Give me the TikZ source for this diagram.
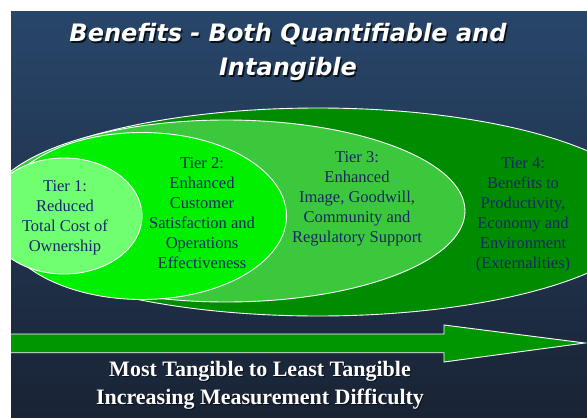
\documentclass[tikz,border=0pt]{standalone}
\usepackage{fontspec}
\setmainfont{Liberation Serif}
\newfontfamily\titlefont{DejaVu Sans}
\usetikzlibrary{shapes.geometric}

\definecolor{bgtop}{RGB}{40,70,106}
\definecolor{bgbottom}{RGB}{25,35,52}
\definecolor{tierfour}{RGB}{0,140,0}
\definecolor{tierthree}{RGB}{60,200,60}
\definecolor{tiertwo}{RGB}{0,240,0}
\definecolor{tierone}{RGB}{112,255,112}
\definecolor{arrowgreen}{RGB}{0,150,0}
\definecolor{tiertext}{RGB}{25,40,100}

\begin{document}
\begin{tikzpicture}
    [ x=1pt, y=-1pt,
    ring/.style={ellipse, draw=white, line width=0.9pt, inner sep=0pt},
    tier/.style={text=tiertext, align=center, inner sep=0pt,
      font=\fontsize{16.5}{20}\selectfont},
    heading/.style={align=center, inner sep=0pt,
      font=\titlefont\bfseries\itshape\fontsize{24}{34}\selectfont},
    footer/.style={text=white, align=center, inner sep=0pt,
      font=\bfseries\fontsize{22}{28}\selectfont}
    ]

    \useasboundingbox (0,0) rectangle (587,418);
    \shade[top color=bgtop, bottom color=bgbottom] (11,11) rectangle (587,418);

    \begin{scope}
      \clip (11,11) rectangle (587,418);

      % nested tiers, outermost first
      \node[ring, fill=tierfour,  minimum width=666pt, minimum height=208pt] (e4) at (318,212) {};
      \node[ring, fill=tierthree, minimum width=478pt, minimum height=182pt] (e3) at (226,211) {};
      \node[ring, fill=tiertwo,   minimum width=289pt, minimum height=167pt] (e2) at (142,216) {};
      \node[ring, fill=tierone,   minimum width=156pt, minimum height=116pt] (e1) at (64,216) {};

      % arrow
      \draw[fill=arrowgreen, draw=white, line width=0.9pt]
        (0,334) -- (444,334) -- (444,325) -- (585,343)
        -- (444,362) -- (444,352.7) -- (0,352.7) -- cycle;
    \end{scope}

    \node[tier] (t1) at (65,218)  {Tier 1:\\Reduced\\Total Cost of\\Ownership};
    \node[tier] (t2) at (202,213) {Tier 2:\\Enhanced\\Customer\\Satisfaction and\\Operations\\Effectiveness};
    \node[tier] (t3) at (357,199) {Tier 3:\\Enhanced\\Image, Goodwill,\\Community and\\Regulatory Support};
    \node[tier] (t4) at (523,215) {Tier 4:\\Benefits to\\Productivity,\\Economy and\\Environment\\(Externalities)};

    % title with shadow
    \node[heading, text=black, opacity=0.75] at (289.5,53.5) {Benefits - Both Quantifiable and\\Intangible};
    \node[heading, text=white] (title) at (288,52) {Benefits - Both Quantifiable and\\Intangible};

    \node[footer, text=black, opacity=0.6] at (261,386) {Most Tangible to Least Tangible\\Increasing Measurement Difficulty};
    \node[footer] (caption) at (260,385) {Most Tangible to Least Tangible\\Increasing Measurement Difficulty};
  \end{tikzpicture}
\end{document}
